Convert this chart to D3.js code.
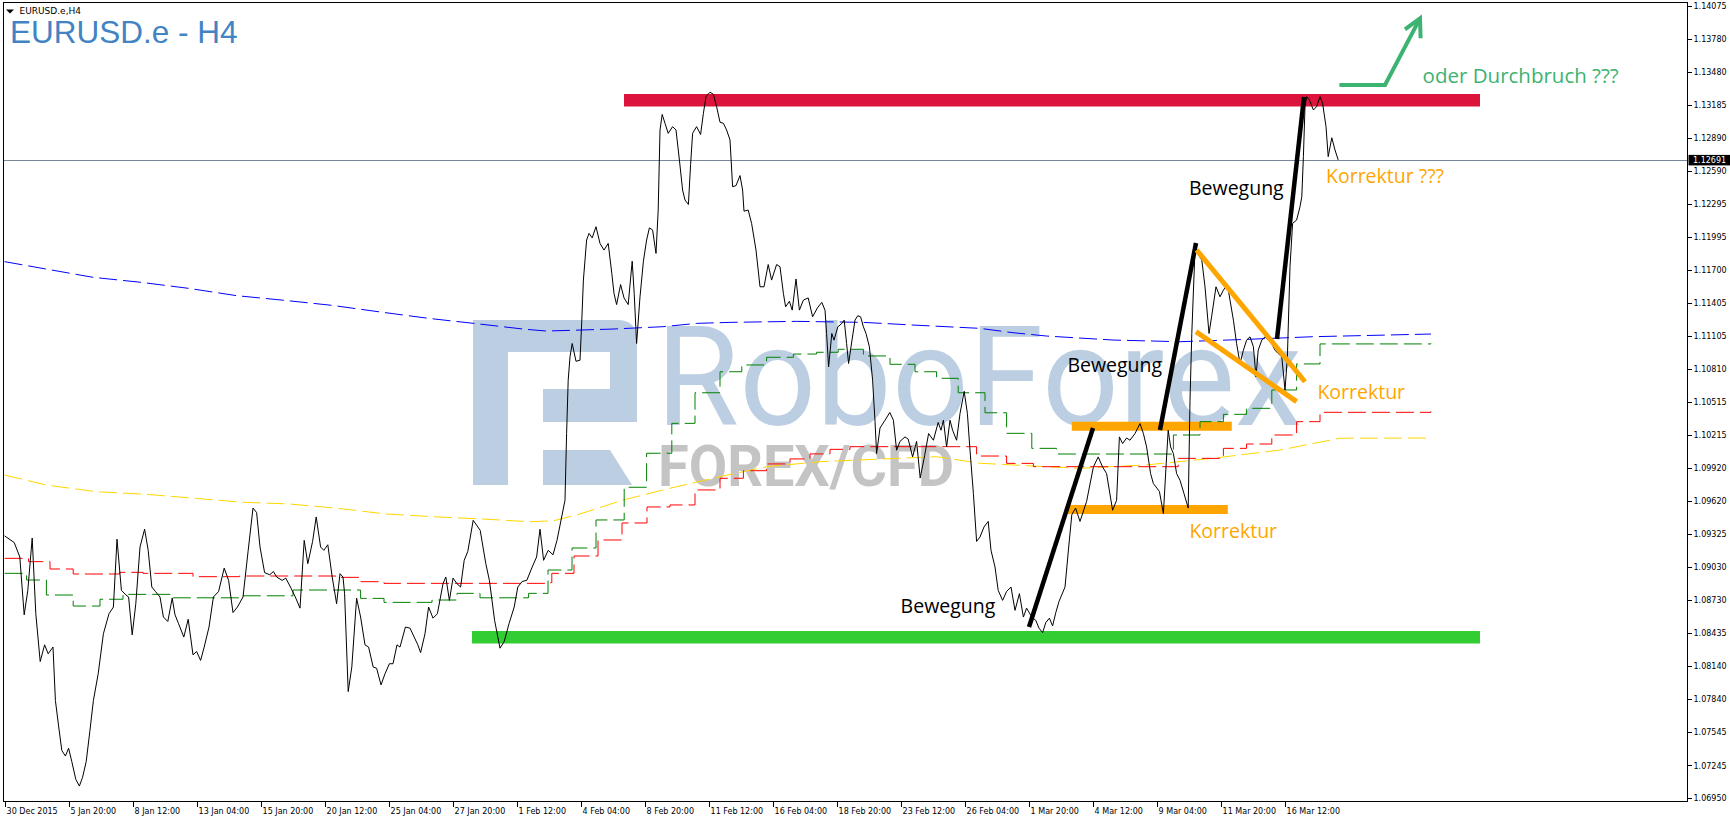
<!DOCTYPE html>
<html>
<head>
<meta charset="utf-8">
<script src="https://cdn.jsdelivr.net/npm/d3@7"></script>
<style>
body { margin: 0; background: #fff; }
svg { display: block; }
.axis text { font-family: "DejaVu Sans", sans-serif; font-size: 8px; fill: #000; }
.axis line { stroke: #000; shape-rendering: crispEdges; }
.axis .domain { display: none; }
.note { font-family: "Open Sans", sans-serif; font-size: 19.5px; }
</style>
</head>
<body>
<script>

// H4 bars counted from the first visible bar (30 Dec 2015)
var xTickBars = [0,16,32,48,64,80,96,112,128,144,160,176,192,208,224,240,256,272,288,304,320];
var xTickLabels = ["30 Dec 2015","5 Jan 20:00","8 Jan 12:00","13 Jan 04:00","15 Jan 20:00","20 Jan 12:00",
  "25 Jan 04:00","27 Jan 20:00","1 Feb 12:00","4 Feb 04:00","8 Feb 20:00","11 Feb 12:00","16 Feb 04:00",
  "18 Feb 20:00","23 Feb 12:00","26 Feb 04:00","1 Mar 20:00","4 Mar 12:00","9 Mar 04:00","11 Mar 20:00","16 Mar 12:00"];

var yTicks = [1.14075,1.13780,1.13480,1.13185,1.12890,1.12590,1.12295,1.11995,1.11700,1.11405,1.11105,
  1.10810,1.10515,1.10215,1.09920,1.09620,1.09325,1.09030,1.08730,1.08435,1.08140,1.07840,1.07545,1.07245,1.06950];

var lastPrice = 1.12691;

// close line, [bar, price]
var closes = [
 [0,1.0931],[2.4,1.0925],[3.8,1.0912],[4.9,1.0860],[5.8,1.0882],[6.9,1.0929],[7.8,1.0861],[8.9,1.0818],[10.0,1.0833],
 [10.9,1.0825],[12.1,1.0831],[12.7,1.0783],[13.5,1.0760],[14.3,1.0738],[15.2,1.0733],[16.0,1.0740],[16.8,1.0728],
 [17.8,1.0712],[18.7,1.0706],[19.5,1.0714],[20.4,1.0728],[21.3,1.0755],[22.2,1.0783],[23.4,1.0807],[24.7,1.0843],
 [26.1,1.0861],[27.2,1.0867],[28.1,1.0928],[29.2,1.0882],[30.3,1.0878],[31.0,1.0876],[31.9,1.0842],[32.8,1.0870],
 [33.85,1.0921],[35.0,1.0937],[35.9,1.0918],[36.8,1.0885],[37.7,1.0881],[38.85,1.0876],[39.7,1.0858],[40.8,1.0854],
 [41.9,1.0875],[42.6,1.0860],[43.5,1.0852],[44.8,1.0840],[45.9,1.0856],[47.1,1.0824],[48.0,1.0827],[49.0,1.0819],
 [49.9,1.0831],[51.1,1.0849],[52.2,1.0876],[53.5,1.0881],[54.9,1.0902],[56.0,1.0891],[57.1,1.0862],[58.2,1.0867],
 [59.6,1.0876],[60.9,1.0918],[62.1,1.0956],[63.0,1.0952],[63.85,1.0921],[65.0,1.0898],[66.3,1.0896],[67.2,1.0899],
 [68.0,1.0894],[69.4,1.0891],[70.3,1.0893],[71.6,1.0884],[72.8,1.0875],[73.85,1.0866],[74.9,1.0927],[75.8,1.0906],
 [77.0,1.0926],[77.9,1.0948],[79.0,1.0921],[79.8,1.0918],[80.8,1.0923],[81.9,1.0894],[83.0,1.0870],[83.85,1.0897],
 [84.6,1.0894],[85.0,1.0879],[85.9,1.0791],[86.8,1.0813],[88.0,1.0875],[89.0,1.0858],[90.1,1.0833],[91.0,1.0831],
 [92.15,1.0813],[93.0,1.0812],[94.1,1.0797],[95.1,1.0807],[96.2,1.0816],[97.1,1.0816],[98.1,1.0833],[98.85,1.0831],
 [100.2,1.0849],[101.35,1.0848],[102.4,1.0840],[103.3,1.0833],[104.0,1.0826],[105.1,1.0843],[106.0,1.0867],
 [107.1,1.0857],[108.2,1.0861],[109.6,1.0888],[110.3,1.0894],[111.2,1.0873],[112.1,1.0893],[113.1,1.0888],
 [114.0,1.0885],[114.9,1.0909],[115.8,1.0917],[117.15,1.0945],[118.9,1.0936],[120.3,1.0906],[121.2,1.0891],
 [122.5,1.0855],[123.85,1.0830],[124.9,1.0836],[126.1,1.0852],[127.4,1.0867],[128.3,1.0885],[129.4,1.0890],
 [130.55,1.0891],[131.9,1.0903],[133.0,1.0912],[133.85,1.0937],[134.75,1.0909],[135.9,1.0918],[137.1,1.0914],
 [138.1,1.0927],[140.1,1.0963],[140.5,1.1023],[140.9,1.1071],[141.35,1.1092],[141.9,1.1104],[142.85,1.1088],
 [143.85,1.1089],[144.3,1.1125],[144.7,1.1161],[145.5,1.1197],[146.1,1.1203],[146.9,1.1199],[147.85,1.1209],
 [148.85,1.1194],[149.85,1.1188],[150.9,1.1194],[151.8,1.1167],[152.35,1.1149],[153.0,1.1139],[154.0,1.1157],
 [154.85,1.1145],[155.9,1.1139],[156.9,1.1178],[157.4,1.1149],[158.0,1.1104],[158.85,1.1146],[159.7,1.1178],
 [160.5,1.1197],[161.2,1.1208],[162.0,1.1206],[162.85,1.1185],[163.4,1.1224],[163.85,1.1296],[164.4,1.1310],
 [165.1,1.1302],[165.9,1.1293],[167.0,1.1299],[167.85,1.1296],[168.7,1.1269],[169.5,1.1242],[170.1,1.1233],
 [170.95,1.1229],[171.5,1.1265],[172.0,1.1293],[173.0,1.1299],[174.0,1.1292],[174.7,1.1311],[175.35,1.1326],
 [176.35,1.1330],[177.2,1.1328],[178.0,1.1317],[178.85,1.1303],[179.7,1.1302],[180.5,1.1296],[181.35,1.1287],
 [182.0,1.1245],[182.85,1.1246],[183.85,1.1255],[184.5,1.1242],[184.85,1.1223],[185.9,1.1224],[186.75,1.1212],
 [187.85,1.1188],[188.85,1.1155],[189.85,1.1155],[190.9,1.1175],[191.75,1.1161],[193.0,1.1175],[193.85,1.1173],
 [194.7,1.1149],[195.25,1.1137],[196.2,1.1142],[196.9,1.1134],[197.85,1.1162],[198.7,1.1134],[199.7,1.1143],
 [200.9,1.1145],[202.0,1.1128],[203.2,1.1136],[204.3,1.1141],[205.1,1.1134],[205.5,1.1113],[206.0,1.1083],
 [206.8,1.1113],[207.35,1.1107],[208.3,1.1119],[209.3,1.1122],[209.9,1.1125],[210.5,1.1104],[211.0,1.1086],
 [211.6,1.1101],[212.6,1.1125],[213.3,1.1129],[214.0,1.1128],[214.7,1.1119],[215.35,1.1113],[216.2,1.1101],
 [217.0,1.1071],[217.6,1.1034],[218.0,1.1005],[218.85,1.1028],[220.1,1.1035],[221.3,1.1042],[222.2,1.1035],
 [223.0,1.1008],[223.85,1.1016],[225.1,1.1020],[225.9,1.1018],[227.0,1.1002],[228.0,1.1016],[228.9,1.0983],
 [230.0,1.1003],[231.0,1.1023],[232.2,1.1017],[233.4,1.1033],[234.1,1.1026],[234.7,1.1035],[235.5,1.1011],
 [236.35,1.1035],[237.0,1.1026],[238.0,1.1017],[238.85,1.1041],[239.9,1.1061],[240.7,1.1041],[241.35,1.1008],
 [242.2,1.0969],[243.0,1.0926],[243.85,1.0930],[244.85,1.0939],[245.9,1.0944],[246.6,1.0918],[247.6,1.0903],
 [248.4,1.0882],[249.5,1.0873],[250.5,1.0881],[251.6,1.0885],[252.6,1.0864],[253.7,1.0879],[254.7,1.0858],
 [255.5,1.0866],[256.8,1.0858],[257.8,1.0855],[258.6,1.0848],[259.5,1.0844],[260.3,1.0853],[261.2,1.0857],
 [262.0,1.0850],[262.8,1.0862],[263.6,1.0872],[265.1,1.0885],[266.0,1.0920],[266.8,1.0950],[267.75,1.0956],
 [268.85,1.0944],[270.5,1.0962],[272.2,1.0993],[273.4,1.1002],[274.5,1.0993],[275.5,1.0987],[277.0,1.0954],
 [278.0,1.0963],[278.7,1.1020],[279.5,1.1014],[280.5,1.1019],[281.35,1.1017],[282.6,1.1023],[283.85,1.1032],
 [284.7,1.1023],[285.5,1.1011],[286.5,1.0987],[287.2,1.0978],[288.7,1.0971],[289.7,1.0951],[290.35,1.0993],
 [290.9,1.1026],[291.5,1.1011],[292.2,1.1005],[293.0,1.0987],[293.85,1.0981],[294.85,1.0969],[295.9,1.0956],
 [296.35,1.1053],[296.8,1.1113],[297.6,1.1188],[298.4,1.1184],[299.3,1.1179],[300.1,1.1155],[301.1,1.1113],
 [301.75,1.1128],[302.85,1.1155],[303.85,1.1146],[304.7,1.1152],[305.7,1.1157],[306.35,1.1143],[307.2,1.1125],
 [308.0,1.1104],[308.85,1.1086],[309.7,1.1098],[310.5,1.1107],[311.35,1.1110],[312.2,1.1101],[312.85,1.1074],
 [313.4,1.1098],[314.3,1.1107],[315.1,1.1110],[315.9,1.1107],[316.75,1.1104],[317.6,1.1098],[318.4,1.1095],
 [319.3,1.1092],[320.1,1.1062],[320.7,1.1092],[321.35,1.1173],[322.0,1.1212],[323.0,1.1215],[323.85,1.1227],
 [324.3,1.1236],[324.7,1.1272],[325.1,1.1317],[325.5,1.1326],[326.2,1.1323],[327.2,1.1314],[328.0,1.1317],
 [328.85,1.1326],[329.5,1.1320],[330.35,1.1299],[330.9,1.1272],[331.8,1.1289],[332.6,1.1278],[333.4,1.12691]
];

// moving averages, [bar, price]
var maBlue = [[0,1.11776],[10.3,1.11710],[22.1,1.11635],[34.1,1.11590],[46,1.11536],[58,1.11470],[70,1.11428],
 [81.85,1.11383],[94,1.11323],[106,1.11266],[118,1.11218],[130.1,1.11168],[135.5,1.11152],[143.85,1.11161],
 [152.1,1.11170],[164.6,1.11191],[173,1.11221],[181.35,1.11230],[198,1.11239],[214.6,1.11230],[227.1,1.11206],
 [243.85,1.11176],[252.1,1.11137],[260.5,1.11107],[277.1,1.11071],[293.85,1.11056],[310.5,1.11077],
 [327.1,1.11101],[356.6,1.11125]];

var maYellow = [[0,1.09857],[10.45,1.09767],[22.95,1.09707],[35.35,1.09684],[47.5,1.09648],[59.6,1.09612],
 [71.1,1.09597],[83.2,1.09558],[95.3,1.09507],[107.35,1.09482],[119.35,1.09462],[131.35,1.09437],[137.25,1.09446],
 [143.85,1.09507],[154.7,1.09633],[166.35,1.09738],[178.85,1.09842],[190.5,1.09932],[203.85,1.09977],
 [217.1,1.09998],[233,1.10022],[243.85,1.09963],[260.5,1.09932],[268.85,1.09918],[285.5,1.09948],[302.1,1.10008],
 [318.85,1.10082],[333.85,1.10188],[356.6,1.10190]];

var maRed = [[0,1.09108],[6,1.09078],[11.35,1.09012],[17.15,1.08967],[28.75,1.08982],[34.6,1.08973],[47.1,1.08943],
 [58.7,1.08949],[82.8,1.08937],[89,1.08898],[94.85,1.08883],[135.45,1.08889],[136.8,1.08973],[142.35,1.09129],
 [148.35,1.09273],[154.35,1.09426],[160.6,1.09570],[166.35,1.09588],[172.6,1.09723],[178.85,1.09828],
 [184.7,1.09896],[190.5,1.09957],[196.35,1.10002],[201.35,1.10047],[206.35,1.10088],[211.35,1.10112],
 [238,1.10112],[243,1.10028],[250.5,1.09962],[257.2,1.09932],[293.4,1.10007],[304.7,1.10097],[310.5,1.10136],
 [316.8,1.10217],[323,1.10337],[328.85,1.10421],[356.6,1.10428]];

var maGreen = [[0,1.08973],[5.5,1.08913],[10.45,1.08778],[17.15,1.08679],[23.85,1.08740],[29.6,1.08784],
 [41.7,1.08753],[59.6,1.08771],[72.1,1.08823],[89,1.08748],[94.85,1.08712],[106.85,1.08733],[113.1,1.08793],
 [118.85,1.08753],[131,1.08793],[135.85,1.09003],[141.85,1.09201],[147.85,1.09453],[154.9,1.09747],
 [160.5,1.10053],[166.8,1.10322],[172.6,1.10597],[178.85,1.10786],[184.3,1.10847],[190.5,1.10916],
 [197.2,1.10945],[203,1.10961],[208.4,1.10988],[214.7,1.10928],[221.35,1.10853],[227.6,1.10786],[233,1.10727],
 [238.4,1.10597],[245.1,1.10417],[250.5,1.10232],[256.8,1.10097],[263,1.10046],[292.2,1.10217],[298.85,1.10337],
 [304.7,1.10403],[310.5,1.10457],[316.8,1.10622],[323,1.10856],[328.85,1.11036],[356.6,1.11040]];

// drawn levels: [fromBar, toBar, price]
var resistance = [154.85, 368.85, 1.13227];
var support = [116.85, 368.85, 1.08398];
var correctionBars = [[266.8, 306.8, 1.10296], [265.8, 305.8, 1.09547]];
// drawn trend lines: [[bar, price], [bar, price]]
var moveLines = [[[256.1,1.08491],[272.1,1.10280]], [[288.85,1.10262],[297.85,1.11944]], [[318.1,1.11080],[324.85,1.13257]]];
var flagLines = [[[298.0,1.11881],[325.1,1.10696]], [[297.85,1.11147],[323.0,1.10517]]];
var breakoutArrow = [[333.7,1.13365],[345.1,1.13365],[353.85,1.13964]];
var arrowHead = [[350.1,1.13865],[353.85,1.13964],[354.0,1.13785]];
// text notes: [text, bar, price, colour, size]
var notes = [
  ["Bewegung", 296.1, 1.12375, "#000", 19.5],
  ["Bewegung", 265.7, 1.10781, "#000", 19.5],
  ["Bewegung", 224.0, 1.08619, "#000", 19.5],
  ["Korrektur", 296.2, 1.09288, "#ffa500", 19.5],
  ["Korrektur", 328.2, 1.10538, "#ffa500", 19.5],
  ["Korrektur ???", 330.35, 1.12481, "#ffa500", 19.5],
  ["oder Durchbruch ???", 354.5, 1.13385, "#3cb371", 20.5]
];

var size_graph = {x: 1730, y: 822};
var plot = {left: 3.5, top: 2.5, right: 1687.5, bottom: 801.5};

var x = d3.scaleLinear().domain([0, 420.6]).range([4.6, 1687]);
var y = d3.scaleLinear().domain([1.06950, 1.14075]).range([798.3, 6]);

var svg = d3.select("body").append("svg")
    .attr("width", size_graph.x)
    .attr("height", size_graph.y);

svg.append("clipPath").attr("id", "plotclip").append("rect")
    .attr("x", plot.left).attr("y", plot.top)
    .attr("width", plot.right - plot.left).attr("height", plot.bottom - plot.top);

var g = svg.append("g").attr("clip-path", "url(#plotclip)");

// watermark
var wm = g.append("g");
var wmBlue = "#bccee2";
wm.append("path").attr("fill", wmBlue)
  .attr("d", "M473,320 H617 Q637,320 637,340 V422 H543 V389 H610 V352 H508 V485 H473 Z");
wm.append("path").attr("fill", wmBlue)
  .attr("d", "M543,450 H610 L632,485 H543 Z");
wm.append("text").text("RoboForex")
  .attr("x", 656).attr("y", 425)
  .attr("textLength", 646).attr("lengthAdjust", "spacingAndGlyphs")
  .style("font-family", "Roboto").style("font-size", "140px").attr("fill", wmBlue);
wm.append("text").text("FOREX/CFD")
  .attr("x", 658).attr("y", 485.5)
  .attr("textLength", 296).attr("lengthAdjust", "spacingAndGlyphs")
  .style("font-family", "Roboto").style("font-weight", "bold").style("font-size", "58px").attr("fill", "#c4c4c4");

// support / resistance bands
const level = (lv, colour, w) => g.append("line")
    .attr("x1", x(lv[0])).attr("x2", x(lv[1]))
    .attr("y1", y(lv[2])).attr("y2", y(lv[2]))
    .attr("stroke", colour).attr("stroke-width", w);
level(resistance, "#dc143c", 12.5);
level(support, "#32cd32", 12.5);
correctionBars.forEach(b => level(b, "#ffa500", 9));

// moving averages
var line = d3.line().x(d => x(d[0])).y(d => y(d[1]));
var stepLine = d3.line().x(d => x(d[0])).y(d => y(d[1])).curve(d3.curveStepAfter);

const ma = (data, colour, gen) => g.append("path")
    .datum(data)
    .attr("d", gen)
    .attr("fill", "none")
    .attr("stroke", colour)
    .attr("stroke-width", 1)
    .attr("stroke-dasharray", "18,6");
ma(maBlue, "#0000ff", line);
ma(maYellow, "#ffd700", line);
ma(maRed, "#ff0000", stepLine);
ma(maGreen, "#008000", stepLine);

// current price line
g.append("line")
    .attr("x1", plot.left).attr("x2", plot.right)
    .attr("y1", Math.round(y(lastPrice)) + 0.5).attr("y2", Math.round(y(lastPrice)) + 0.5)
    .attr("stroke", "#778899").attr("stroke-width", 1);

// close line
g.append("path")
    .datum(closes)
    .attr("d", line)
    .attr("fill", "none")
    .attr("stroke", "#000")
    .attr("stroke-width", 1);

// hand drawn marks
moveLines.forEach(l => g.append("path").datum(l).attr("d", line)
    .attr("stroke", "#000").attr("stroke-width", 4.5).attr("fill", "none"));
flagLines.forEach(l => g.append("path").datum(l).attr("d", line)
    .attr("stroke", "#ffa500").attr("stroke-width", 5).attr("fill", "none"));
g.append("path").datum(breakoutArrow).attr("d", line)
    .attr("stroke", "#3cb371").attr("stroke-width", 4).attr("fill", "none");
g.append("path").datum(arrowHead).attr("d", line)
    .attr("stroke", "#3cb371").attr("stroke-width", 4).attr("fill", "none");

g.selectAll(".note")
    .data(notes)
    .enter().append("text")
    .attr("class", "note")
    .attr("x", d => x(d[1]))
    .attr("y", d => y(d[2]))
    .attr("fill", d => d[3])
    .style("font-size", d => d[4] + "px")
    .text(d => d[0]);

// frame
svg.append("rect")
    .attr("x", plot.left).attr("y", plot.top)
    .attr("width", plot.right - plot.left).attr("height", plot.bottom - plot.top)
    .attr("fill", "none").attr("stroke", "#000").attr("stroke-width", 1);

// axes
var yAxis = d3.axisRight(y).tickValues(yTicks).tickSize(4).tickPadding(2).tickFormat(d3.format(".5f"));
svg.append("g")
    .attr("class", "axis")
    .attr("transform", `translate(${plot.right},0)`)
    .call(yAxis);

var xAxis = d3.axisBottom(x).tickValues(xTickBars).tickSize(5).tickFormat((d, i) => xTickLabels[i]);
svg.append("g")
    .attr("class", "axis")
    .attr("transform", `translate(0,${plot.bottom})`)
    .call(xAxis)
    .selectAll("text")
    .attr("text-anchor", "start")
    .attr("x", 1.5)
    .attr("y", 7);

// last price tag
var yl = y(lastPrice);
svg.append("rect")
    .attr("x", plot.right + 1).attr("y", yl - 5)
    .attr("width", 44).attr("height", 10.5)
    .attr("fill", "#000");
svg.append("text")
    .attr("x", plot.right + 5.5).attr("y", yl + 3.3)
    .attr("fill", "#fff")
    .style("font-family", "DejaVu Sans").style("font-size", "8px")
    .text(d3.format(".5f")(lastPrice));

// headers
svg.append("path")
    .attr("d", "M6,9.5 L14,9.5 L10,13.5 Z")
    .attr("fill", "#000");
svg.append("text")
    .attr("x", 19.5).attr("y", 13.5)
    .style("font-family", "DejaVu Sans").style("font-size", "9px")
    .text("EURUSD.e,H4");
svg.append("text")
    .attr("x", 10).attr("y", 43.3)
    .attr("fill", "#4283c4")
    .style("font-family", "Liberation Sans, Arial").style("font-size", "31.5px")
    .text("EURUSD.e - H4");

</script>
</body>
</html>
